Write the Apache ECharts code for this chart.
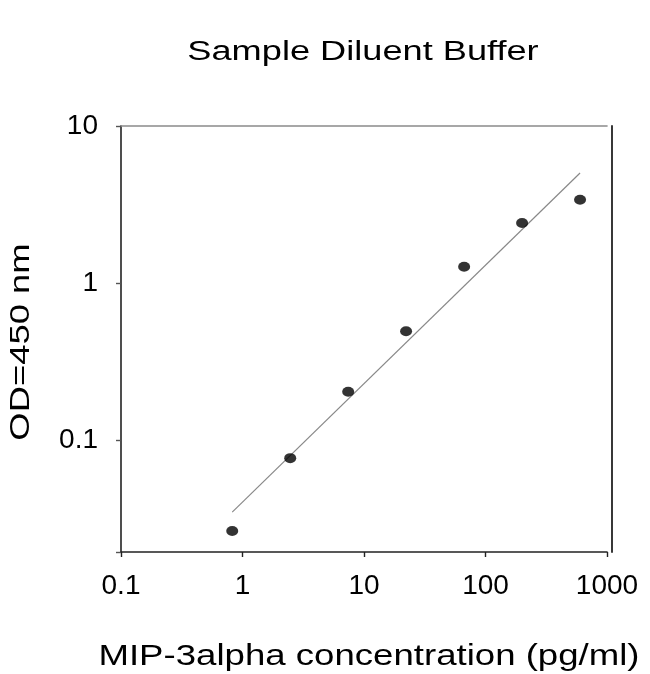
<!DOCTYPE html>
<html>
<head>
<meta charset="utf-8">
<script src="https://cdn.jsdelivr.net/npm/echarts@6/dist/echarts.min.js"></script>
<style>
html,body{margin:0;padding:0;background:#fff;}
#chart{width:650px;height:674px;}
</style>
</head>
<body>
<div id="chart"></div>
<script>
// ---- data ----
const titleText = 'Sample Diluent Buffer';
const xAxisTitle = 'MIP-3alpha concentration (pg/ml)';
const yAxisTitle = 'OD=450 nm';
const concentrations = [0.823, 2.47, 7.41, 22.2, 66.7, 200, 600];
const odValues = [0.0264, 0.0768, 0.203, 0.494, 1.27, 2.41, 3.39];
const fitX = [0.823, 600];
const fitY = [0.0348, 5.02];
const xTickValues = [0.1, 1, 10, 100, 1000];
const xTickLabels = ['0.1', '1', '10', '100', '1000'];
const yTickValues = [0.1, 1, 10];
const yTickLabels = ['0.1', '1', '10'];

function labelFor(values, labels, v) {
  for (let i = 0; i < values.length; i++) {
    if (Math.abs(Math.log10(v) - Math.log10(values[i])) < 1e-6) return labels[i];
  }
  return '';
}

const FONT = '"Liberation Sans", Arial, Helvetica, sans-serif';
const chart = echarts.init(document.getElementById('chart'));

chart.setOption({
  backgroundColor: '#fff',
  animation: false,
  grid: { left: 121, right: 43, top: 126, bottom: 122, containLabel: false },
  xAxis: [{
    type: 'log', logBase: 10, min: 0.1, max: 1000,
    axisLine: { show: true, lineStyle: { color: '#222', width: 1.6 } },
    axisTick: { show: true, inside: false, length: 5, lineStyle: { color: '#222', width: 1.4 } },
    minorTick: { show: false },
    splitLine: { show: false },
    axisLabel: {
      margin: 20, fontFamily: FONT, fontSize: 28, color: '#000',
      formatter: v => labelFor(xTickValues, xTickLabels, v)
    }
  }, {
    type: 'log', logBase: 10, min: 0.1, max: 1000, position: 'top',
    axisLine: { show: true, lineStyle: { color: '#8a8a8a', width: 1.6 } },
    axisTick: { show: false }, axisLabel: { show: false }, splitLine: { show: false }
  }],
  yAxis: [{
    type: 'log', logBase: 10, min: 0.0194, max: 10,
    axisLine: { show: true, lineStyle: { color: '#222', width: 1.6 } },
    axisTick: { show: true, inside: false, length: 5, lineStyle: { color: '#555', width: 1.4 } },
    splitLine: { show: false },
    axisLabel: {
      margin: 23, fontFamily: FONT, fontSize: 28, color: '#000',
      formatter: v => labelFor(yTickValues, yTickLabels, v)
    }
  }, {
    type: 'log', logBase: 10, min: 0.0194, max: 10, position: 'right', offset: 5,
    axisLine: { show: true, lineStyle: { color: '#222', width: 1.8 } },
    axisTick: { show: false }, axisLabel: { show: false }, splitLine: { show: false }
  }],
  series: [{
    type: 'line',
    data: fitX.map((x, i) => [x, fitY[i]]),
    showSymbol: false, symbol: 'none',
    lineStyle: { color: '#888', width: 1.2 },
    z: 2
  }, {
    type: 'scatter',
    data: concentrations.map((x, i) => [x, odValues[i]]),
    symbol: 'circle', symbolSize: [12, 10],
    itemStyle: { color: '#000' },
    z: 3
  }],
  graphic: [{
    type: 'text', x: 363, y: 53, scaleX: 1.34, scaleY: 1,
    style: { text: titleText, font: '27px ' + FONT, fill: '#000', textAlign: 'center', textVerticalAlign: 'middle' }
  }, {
    type: 'text', x: 369, y: 657, scaleX: 1.22, scaleY: 1,
    style: { text: xAxisTitle, font: '30px ' + FONT, fill: '#000', textAlign: 'center', textVerticalAlign: 'middle' }
  }, {
    type: 'text', x: 21, y: 342, rotation: Math.PI / 2, scaleX: 1.3, scaleY: 1,
    style: { text: yAxisTitle, font: '28px ' + FONT, fill: '#000', textAlign: 'center', textVerticalAlign: 'middle' }
  }]
});
</script>
</body>
</html>
